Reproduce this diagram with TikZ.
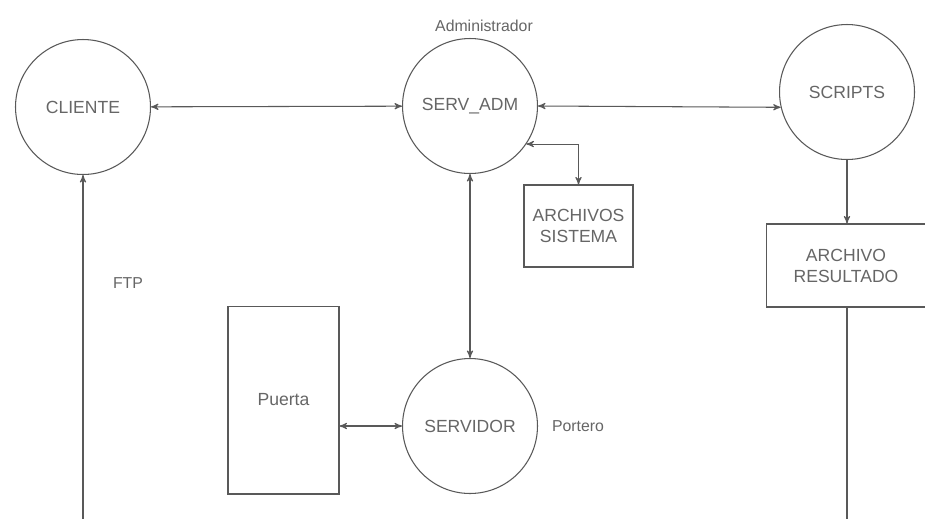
\documentclass[tikz,border=0pt]{standalone}
\usepackage{fontspec}
\setmainfont{Liberation Sans}
\usepackage{tikz}
\usetikzlibrary{arrows}

\begin{document}
\begin{tikzpicture}[x=0.02cm,y=-0.02cm,>=stealth',
    every node/.style={text=black!60,font=\normalsize},
    proc/.style={draw=black!65,line width=0.6pt,circle,minimum size=2.7cm,inner sep=0pt},
    store/.style={draw=black!65,line width=0.6pt,rectangle,align=center,inner sep=0pt},
    lbl/.style={font=\small},
    flow/.style={draw=black!65,line width=0.6pt}]
    \clip (0,0) rectangle (925,518);
    \fill[white] (0,0) rectangle (925,518);

    \node[proc] (CLI) at (83,107) {CLIENTE};
    \node[proc] (ADM) at (470,106) {SERV\_ADM};
    \node[proc] (SCR) at (847,92) {SCRIPTS};
    \node[proc] (SRV) at (470,426) {SERVIDOR};
    \node[store,minimum width=2.18cm,minimum height=1.64cm] (ARS) at (578.5,226) {ARCHIVOS\\SISTEMA};
    \node[store,minimum width=3.2cm,minimum height=1.66cm] (RES) at (846,265.5) {ARCHIVO\\RESULTADO};
    \node[store,minimum width=2.22cm,minimum height=3.76cm] (PTA) at (283.5,400) {Puerta};

    \node[lbl] (lADM) at (484,26) {Administrador};
    \node[lbl] (lSRV) at (578,426) {Portero};
    \node[lbl] (lFTP) at (128,283) {FTP};
    \coordinate (bot) at (0,535);

    \draw[flow,<->] (CLI) -- (ADM);
    \draw[flow,<->] (ADM.east) -- (SCR.193);
    \draw[flow,<->] (ADM.-34) -| (ARS.north);
    \draw[flow,<->] (ADM) -- (SRV);
    \draw[flow,<->] (SRV.west -| PTA.east) -- (SRV.west);
    \draw[flow,->] (SCR.south) -- (SCR.south |- RES.north);
    \draw[flow,->] (RES.south -| SCR.south) -- (bot -| SCR.south) -| (CLI.south);
\end{tikzpicture}
\end{document}
